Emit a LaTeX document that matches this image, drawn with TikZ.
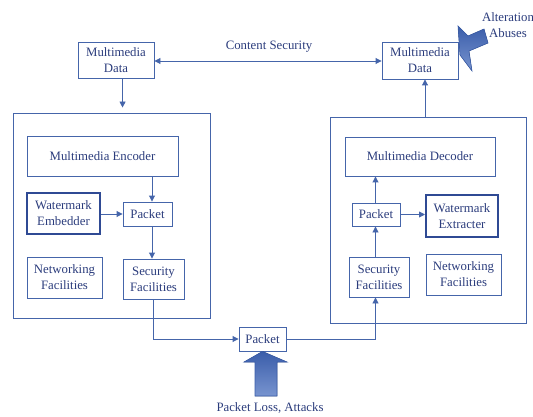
\documentclass[tikz,border=0pt]{standalone}
\usepackage{fontspec}
\setmainfont{Liberation Serif}
\usetikzlibrary{arrows.meta,calc}
\definecolor{lineblue}{HTML}{4565AA}
\definecolor{textblue}{HTML}{2B3C7C}
\definecolor{thickblue}{HTML}{2F4A94}
\definecolor{fillA}{HTML}{3A5DAA}
\definecolor{fillB}{HTML}{7894CF}
\tikzset{
  box/.style={draw=lineblue, line width=0.9pt, text=textblue, align=center, inner sep=0pt,
    font=\fontsize{12.8}{16}\selectfont},
  thickbox/.style={box, draw=thickblue, line width=2pt},
  outer/.style={draw=lineblue, line width=0.9pt, inner sep=0pt},
  lbl/.style={text=textblue, align=center, inner sep=0pt, font=\fontsize{12.8}{16.5}\selectfont},
  arr/.style={draw=lineblue, line width=0.9pt, -{Triangle[length=6pt,width=6pt]}},
  darr/.style={draw=lineblue, line width=0.9pt, {Triangle[length=6pt,width=6pt]}-{Triangle[length=6pt,width=6pt]}},
  bigarrow/.style={draw=fillA, line width=0.6pt, top color=fillA, bottom color=fillB}
}
\begin{document}
\begin{tikzpicture}[x=1pt,y=-1pt]
\useasboundingbox (0,0) rectangle (533,417);
% outer boxes
\node[outer, minimum width=197pt, minimum height=205pt] (outerL) at (111.5,215.5) {};
\node[outer, minimum width=196pt, minimum height=206pt] (outerR) at (428,220) {};
% top data boxes
\node[box, minimum width=76pt, minimum height=36pt] (mdL) at (116,60) {Multimedia\\Data};
\node[box, minimum width=76pt, minimum height=37pt] (mdR) at (420,60.5) {Multimedia\\Data};
\node[lbl] (cs) at (269,47) {Content Security};
% encoder side
\node[box, minimum width=151pt, minimum height=40pt] (enc) at (102.5,156) {Multimedia Encoder};
\node[thickbox, minimum width=73pt, minimum height=41pt] (wme) at (63.5,213.5) {Watermark\\Embedder};
\node[box, minimum width=49pt, minimum height=24pt] (pktL) at (147.5,214) {Packet};
\node[box, minimum width=75pt, minimum height=41pt] (netL) at (64.5,277.5) {Networking\\Facilities};
\node[box, minimum width=61pt, minimum height=40pt] (secL) at (153.5,279) {Security\\Facilities};
% channel
\node[box, minimum width=47pt, minimum height=24pt] (pktC) at (262.5,339) {Packet};
% decoder side
\node[box, minimum width=150pt, minimum height=39pt] (dec) at (420,156.5) {Multimedia Decoder};
\node[box, minimum width=48pt, minimum height=23pt] (pktR) at (376,214.5) {Packet};
\node[thickbox, minimum width=72pt, minimum height=42pt] (wmx) at (462,216) {Watermark\\Extracter};
\node[box, minimum width=60pt, minimum height=40pt] (secR) at (379,277) {Security\\Facilities};
\node[box, minimum width=75pt, minimum height=41pt] (netR) at (463.5,274.5) {Networking\\Facilities};
% labels
\node[lbl] (alt) at (508,25) {Alteration\\Abuses};
\node[lbl] (pla) at (270,408) {Packet Loss, Attacks};
% connectors
\draw[darr] (mdL.east |- 0,61) -- (mdR.west |- 0,61);
\draw[arr, shorten >=5pt] (mdL.south -| pktL.west) -- (outerL.north -| pktL.west);
\draw[arr] ([xshift=4.5pt]pktL.north) coordinate (e1) (e1 |- enc.south) -- (e1);
\draw[arr] (wme.east |- pktL.west) -- (pktL.west);
\draw[arr] ([xshift=4.5pt]pktL.south) coordinate (p1) -- (p1 |- secL.north);
\draw[arr] (secL.south) |- (pktC.west);
\draw[arr] (pktC.east) -| ([xshift=-3.5pt]secR.south);
\draw[arr] ([xshift=-3.5pt]secR.north) coordinate (s1) -- (s1 |- pktR.south);
\draw[arr] (s1 |- pktR.north) -- (s1 |- dec.south);
\draw[arr] (pktR.east) -- (wmx.west |- pktR.east);
\draw[arr] (outerR.north -| 425,0) -- (mdR.south -| 425,0);
% big arrows
\fill[bigarrow] (pktC.south) -- (244,362) -- (255,362) -- (255,396) -- (277,396) -- (277,362) -- (287,362) -- cycle;
\fill[bigarrow] (458,26) -- (460,55) -- (472,71) -- (469,51) -- (488,43) -- (484,29) -- (468,36) -- cycle;
\end{tikzpicture}
\end{document}
